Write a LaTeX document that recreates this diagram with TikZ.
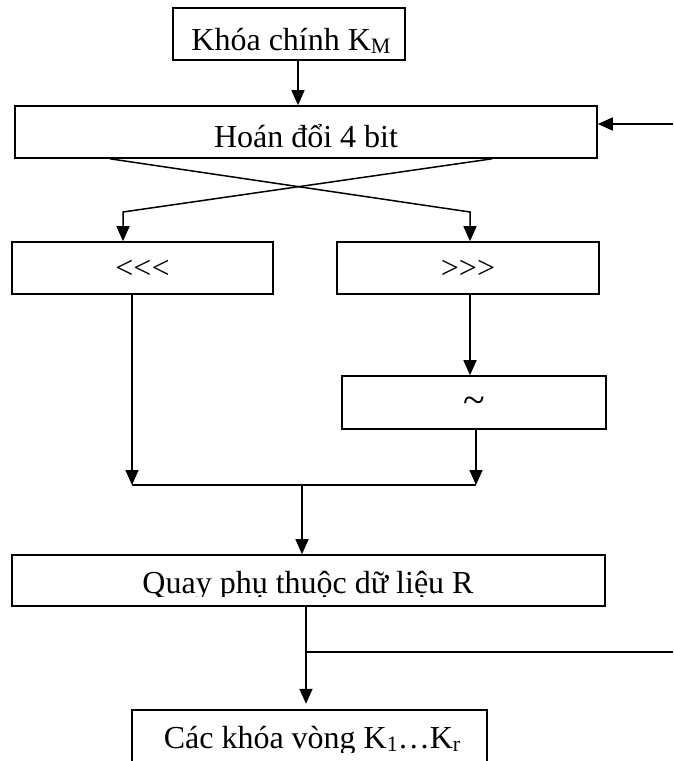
\documentclass[tikz,border=0pt]{standalone}
\usepackage{fontspec}
\setmainfont{Liberation Serif}
\usetikzlibrary{arrows.meta,calc}
\newcommand\lowsub[1]{\raisebox{-0.12em}{\fontsize{22}{22}\selectfont #1}}
\begin{document}
\begin{tikzpicture}[x=1pt,y=-1pt,
  box/.style={draw, line width=1.6pt, inner sep=0pt},
  lbl/.style={anchor=base, inner sep=0pt, font=\fontsize{32}{38}\selectfont},
  arr/.style={line width=1.5pt, -{Triangle[length=15pt,width=13pt]}},
  ln/.style={line width=1.5pt}]
\useasboundingbox (0,0) rectangle (673,761);

% boxes
\node[box, minimum width=232pt, minimum height=52pt] (b1) at (289,34) {};
\node[box, minimum width=582pt, minimum height=52pt] (b2) at (306,132) {};
\node[box, minimum width=261pt, minimum height=52pt] (bl) at (142.5,268) {};
\node[box, minimum width=262pt, minimum height=52pt] (br) at (468,268) {};
\node[box, minimum width=264pt, minimum height=53pt] (bt) at (474,402.5) {};
\node[box, minimum width=593pt, minimum height=51pt] (b4) at (308.5,580.5) {};
\node[inner sep=0pt, minimum width=355pt, minimum height=51pt] (b5) at (309.5,735.5) {};
\draw[line width=1.6pt] (b5.south west) |- (b5.north east) -- (b5.south east);

% labels
\node[lbl] (t1) at (291,50) {Khóa chính K\lowsub{M}};
\node[lbl] (t2) at (306,147) {Hoán đổi 4 bit};
\node[lbl] (tl) at (142.5,278) {<\kern0pt<\kern0pt<};
\node[lbl] (tr) at (468,278) {>\kern0pt>\kern0pt>};
\node[lbl, font=\fontsize{40}{44}\selectfont] (tt) at (474,413) {\textasciitilde};
\begin{scope}
  \clip (12,555) rectangle (605,596);
  \node[lbl] (t4) at (308,593) {Quay phụ thuộc dữ liệu R};
\end{scope}
\begin{scope}
  \clip (132,710) rectangle (487,752);
  \node[lbl] (t5) at (312,748) {Các khóa vòng K\lowsub{1}…K\lowsub{r}};
\end{scope}

% connectors
\coordinate (xa) at (298,0);
\draw[arr] (b1.south -| xa) -- (b2.north -| xa);
\coordinate (fb) at (673,124);
\draw[arr] (fb) -- (fb -| b2.east);

\coordinate (c1) at (110,0);
\coordinate (k1) at (470,212);
\draw[arr] (b2.south -| c1) -- (k1) -- (br.north -| k1);
\coordinate (c2) at (492,0);
\coordinate (k2) at (123,212);
\draw[arr] (b2.south -| c2) -- (k2) -- (bl.north -| k2);

\coordinate (j1) at (132,485);
\draw[arr] (bl.south -| j1) -- (j1);
\coordinate (xr) at (470,0);
\draw[arr] (br.south -| xr) -- (bt.north -| xr);
\coordinate (j2) at (476,485);
\draw[arr] (bt.south -| j2) -- (j2);
\draw[ln] (j1) -- (j2);
\coordinate (j3) at (302,485);
\draw[arr] (j3) -- (b4.north -| j3);
\coordinate (j4) at (306,652);
\draw[arr, shorten >=6pt] (b4.south -| j4) -- (b5.north -| j4);
\coordinate (fo) at (673,652);
\draw[ln] (j4) -- (fo);
\end{tikzpicture}
\end{document}
